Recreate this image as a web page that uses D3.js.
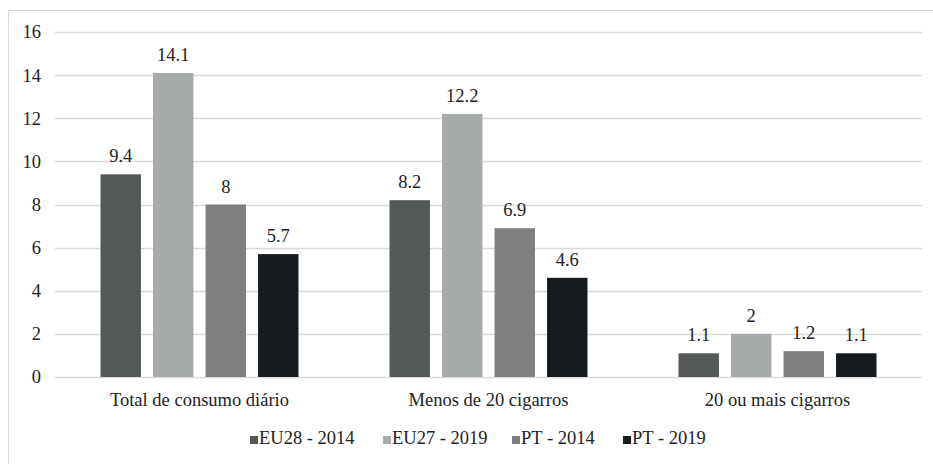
<!DOCTYPE html>
<html>
<head>
<meta charset="utf-8">
<script src="https://cdn.jsdelivr.net/npm/d3@7"></script>
<style>
  body { margin: 0; background: #fff; }
  svg text { font-family: "Liberation Serif", serif; }
</style>
</head>
<body>
<div id="chart"></div>
<script>
// Categories and series
const categories = ["Total de consumo diário", "Menos de 20 cigarros", "20 ou mais cigarros"];
const seriesNames = ["EU28 - 2014", "EU27 - 2019", "PT - 2014", "PT - 2019"];
const seriesColors = ["#545857", "#a7aaab", "#7d7f80", "#181b1d"];
const eu28_2014 = [9.4, 8.2, 1.1];
const eu27_2019 = [14.1, 12.2, 2];
const pt_2014 = [8, 6.9, 1.2];
const pt_2019 = [5.7, 4.6, 1.1];
const yTicks = [0, 2, 4, 6, 8, 10, 12, 14, 16];

const seriesValues = [eu28_2014, eu27_2019, pt_2014, pt_2019];

const W = 933, H = 464;
const margin = { top: 32, right: 11, bottom: 87, left: 55 };
const width = W - margin.left - margin.right;
const height = H - margin.top - margin.bottom;
const groupW = 198;
const fs = 18.5;

const svg = d3.select("#chart").append("svg")
    .attr("width", W)
    .attr("height", H)
    .attr("font-family", "Liberation Serif");

// outer frame
svg.append("rect")
    .attr("x", 8.5).attr("y", 10.5)
    .attr("width", W).attr("height", H)
    .attr("fill", "none")
    .attr("stroke", "#d9d9d9");

const g = svg.append("g")
    .attr("transform", `translate(${margin.left},${margin.top})`);

const x0 = d3.scaleBand().domain(categories).range([0, width]);
const x1 = d3.scaleBand().domain(seriesNames)
    .range([0, groupW]).paddingInner(0.23).paddingOuter(0);
const y = d3.scaleLinear().domain([0, 16]).range([height, 0]);

// gridlines
g.selectAll("line.grid")
    .data(yTicks)
    .enter().append("line")
    .attr("x1", 0).attr("x2", width)
    .attr("y1", d => Math.round(y(d)) + 0.5)
    .attr("y2", d => Math.round(y(d)) + 0.5)
    .attr("stroke", "#d9d9d9")
    .attr("stroke-width", 1.3);

// y axis labels
const yAxis = g.append("g")
    .call(d3.axisLeft(y).tickValues(yTicks).tickSize(0).tickPadding(14))
    .attr("font-family", "Liberation Serif")
    .attr("font-size", fs);
yAxis.select(".domain").remove();
yAxis.selectAll("text").attr("fill", "#222");

// bars
const groups = g.selectAll("g.cat")
    .data(categories)
    .enter().append("g")
    .attr("transform", c => `translate(${x0(c) + (x0.bandwidth() - groupW) / 2},0)`);

groups.each(function (c, ci) {
    const grp = d3.select(this);
    const rows = seriesNames.map((s, si) => ({ s, si, v: seriesValues[si][ci] }));
    grp.selectAll("rect")
        .data(rows)
        .enter().append("rect")
        .attr("x", d => x1(d.s))
        .attr("y", d => y(d.v))
        .attr("width", x1.bandwidth())
        .attr("height", d => height - y(d.v))
        .attr("fill", d => seriesColors[d.si]);
    grp.selectAll("text")
        .data(rows)
        .enter().append("text")
        .attr("x", d => x1(d.s) + x1.bandwidth() / 2)
        .attr("y", d => y(d.v) - 12)
        .attr("text-anchor", "middle")
        .attr("fill", "#222")
        .attr("font-size", fs)
        .text(d => d.v);
});

// category labels
g.selectAll("text.cat")
    .data(categories)
    .enter().append("text")
    .attr("x", c => x0(c) + x0.bandwidth() / 2)
    .attr("y", height + 29)
    .attr("text-anchor", "middle")
    .attr("fill", "#222")
    .attr("font-size", fs)
    .text(c => c);

// legend
const legendX = [250, 383, 512, 623];
const legend = svg.append("g");
seriesNames.forEach((s, i) => {
    legend.append("rect")
        .attr("x", legendX[i]).attr("y", 436)
        .attr("width", 8).attr("height", 8)
        .attr("fill", seriesColors[i]);
    legend.append("text")
        .attr("x", legendX[i] + 9).attr("y", 444)
        .attr("fill", "#222")
        .attr("font-size", fs)
        .text(s);
});
</script>
</body>
</html>
